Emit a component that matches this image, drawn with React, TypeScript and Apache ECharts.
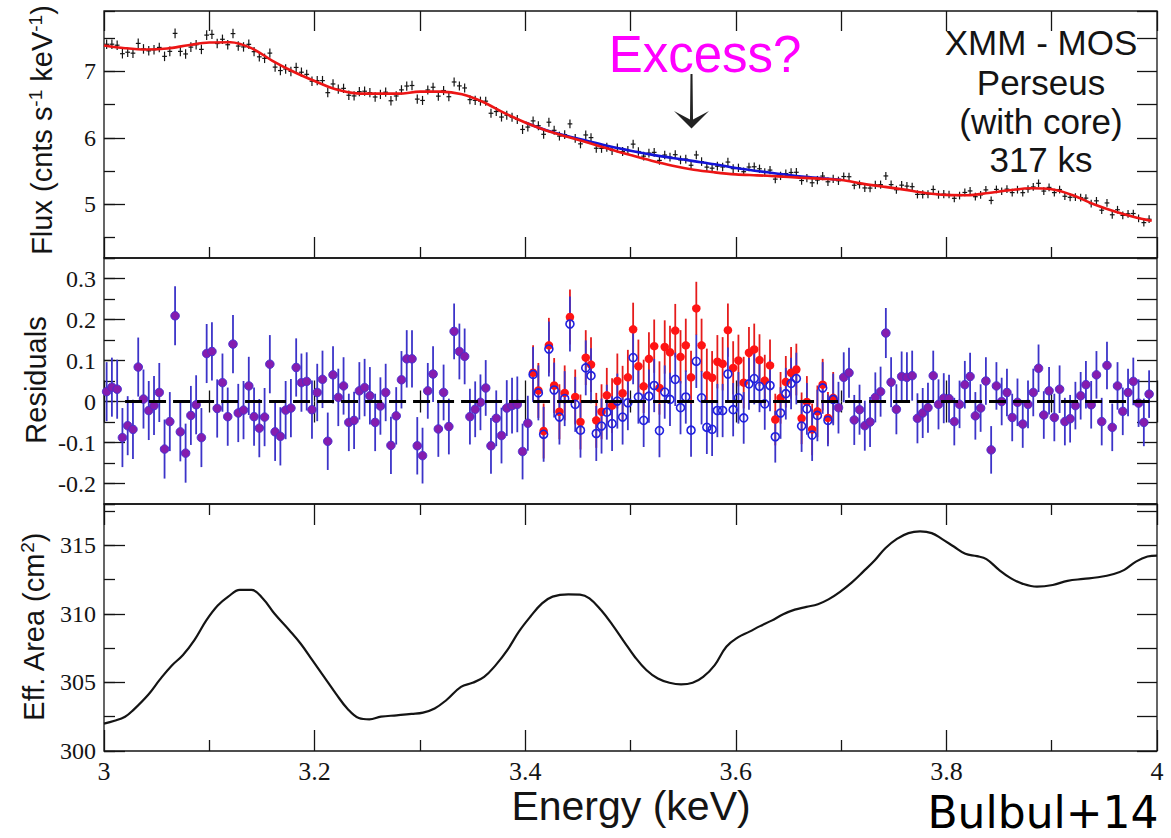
import { useEffect, useRef } from "react";
import * as echarts from "echarts";

// ---------------- data ----------------
// energy bins of the MOS spectrum (bin centres, keV)
const BIN_START = 3.0025;
const BIN_WIDTH = 0.005;

// residuals (data - model without the 3.55 keV line), one per bin
const residualNoLine = [
  0.024, 0.035, 0.030, -0.088, -0.059, -0.068, 0.084, 0.006, -0.022, -0.010,
  0.022, -0.116, -0.049, 0.209, -0.074, -0.126, -0.034, -0.008, -0.088, 0.117,
  0.122, -0.017, 0.046, -0.037, 0.140, -0.028, -0.021, 0.038, -0.037, -0.065,
  -0.038, 0.091, -0.074, -0.085, -0.021, -0.016, 0.083, 0.046, 0.049, -0.020,
  0.022, 0.054, -0.097, 0.065, 0.010, 0.038, -0.051, -0.046, 0.026, 0.034,
  0.014, -0.051, -0.011, 0.022, -0.107, -0.035, 0.053, 0.104, 0.104, -0.108,
  -0.132, 0.026, 0.067, -0.067, 0.022, -0.061, 0.171, 0.122, 0.110, -0.037,
  -0.019, -0.002, 0.033, -0.108, -0.041, -0.083, -0.016, -0.010, -0.007, -0.122,
  -0.053, 0.070, 0.027, -0.072, 0.137, 0.039, -0.025, 0.021, 0.206, 0.011,
  -0.050, 0.107, 0.090, -0.046, -0.025, 0.015, -0.010, 0.050, 0.020, 0.059,
  0.176, 0.086, 0.037, 0.104, 0.135, 0.033, 0.133, 0.120, 0.173, 0.109,
  0.137, 0.059, 0.227, 0.137, 0.064, 0.058, 0.097, 0.092, 0.174, 0.082,
  0.100, 0.046, 0.119, 0.127, 0.101, 0.051, 0.088, -0.044, 0.009, 0.048,
  0.070, 0.078, -0.041, -0.001, -0.068, -0.024, 0.041, -0.040, 0.009, -0.015,
  0.059, 0.070, -0.045, -0.020, -0.059, -0.050, 0.010, 0.024, 0.167, 0.047,
  -0.019, 0.061, 0.059, 0.063, -0.041, -0.028, -0.015, 0.063, -0.007, 0.008,
  0.007, -0.049, -0.007, 0.041, 0.061, -0.035, -0.016, 0.050, -0.118, 0.038,
  0.000, 0.022, -0.039, -0.002, -0.055, -0.007, 0.022, 0.081, -0.033, 0.026,
  -0.039, 0.030, -0.049, -0.042, -0.010, 0.014, 0.041, -0.008, 0.065, -0.049,
  0.088, -0.063, 0.038, -0.024, 0.022, 0.049, -0.004, -0.051, 0.018,
];

// residuals against the model that includes the line, for the bins where they differ
const EXCESS_FIRST_BIN = 81;
const residualWithLineExcess = [
  0.066, 0.021, -0.080, 0.128, 0.028, -0.038, 0.007, 0.189, -0.007, -0.070,
  0.082, 0.063, -0.078, -0.060, -0.026, -0.054, 0.001, -0.038, -0.003, 0.107,
  0.011, -0.046, 0.013, 0.039, -0.071, 0.023, 0.005, 0.054, -0.015, 0.011,
  -0.070, 0.098, 0.009, -0.063, -0.068, -0.022, -0.022, 0.067, -0.020, 0.009,
  -0.040, 0.043, 0.056, 0.037, -0.006, 0.039, -0.086, -0.028, 0.019, 0.044,
  0.056, -0.060, -0.018, -0.082, -0.034, 0.033, -0.046, 0.005,
];

// 1-sigma error half-width, per 0.1 keV slice (3.0-3.1, ..., 3.9-4.0)
const errorBySlice = [0.072, 0.071, 0.070, 0.068, 0.067, 0.065, 0.063, 0.061, 0.058, 0.058];

// measured flux (cnts s^-1 keV^-1), one per bin
const fluxData = [
  7.409, 7.41, 7.395, 7.267, 7.289, 7.275, 7.422, 7.339, 7.31, 7.326,
  7.361, 7.227, 7.302, 7.573, 7.302, 7.263, 7.366, 7.402, 7.332, 7.547,
  7.558, 7.42, 7.484, 7.402, 7.57, 7.382, 7.369, 7.408, 7.298, 7.22,
  7.197, 7.276, 7.065, 7.013, 7.036, 7.0, 7.06, 6.988, 6.956, 6.852,
  6.861, 6.862, 6.68, 6.811, 6.732, 6.745, 6.641, 6.631, 6.695, 6.702,
  6.681, 6.615, 6.654, 6.687, 6.558, 6.63, 6.722, 6.78, 6.788, 6.583,
  6.563, 6.721, 6.762, 6.628, 6.712, 6.619, 6.841, 6.782, 6.751, 6.575,
  6.564, 6.552, 6.552, 6.37, 6.396, 6.313, 6.341, 6.311, 6.277, 6.126,
  6.162, 6.255, 6.182, 6.053, 6.235, 6.113, 6.026, 6.048, 6.21, 5.992,
  5.909, 6.043, 6.003, 5.843, 5.841, 5.857, 5.809, 5.846, 5.794, 5.81,
  5.905, 5.794, 5.724, 5.77, 5.781, 5.66, 5.741, 5.709, 5.746, 5.667,
  5.68, 5.587, 5.742, 5.642, 5.559, 5.543, 5.573, 5.561, 5.635, 5.536,
  5.548, 5.49, 5.56, 5.564, 5.534, 5.48, 5.514, 5.378, 5.427, 5.461,
  5.478, 5.481, 5.357, 5.393, 5.323, 5.363, 5.424, 5.338, 5.382, 5.353,
  5.417, 5.414, 5.286, 5.297, 5.245, 5.243, 5.292, 5.295, 5.426, 5.295,
  5.218, 5.287, 5.273, 5.264, 5.148, 5.148, 5.151, 5.222, 5.144, 5.152,
  5.146, 5.089, 5.13, 5.177, 5.2, 5.113, 5.141, 5.216, 5.057, 5.223,
  5.195, 5.227, 5.175, 5.219, 5.174, 5.229, 5.26, 5.315, 5.198, 5.253,
  5.175, 5.221, 5.12, 5.104, 5.108, 5.098, 5.092, 5.009, 5.051, 4.91,
  5.019, 4.841, 4.917, 4.832, 4.856, 4.86, 4.787, 4.723, 4.774,
];

// best-fit model without the line (red)
const modelEnergy = [
  3.00, 3.02, 3.04, 3.06, 3.08, 3.10, 3.12, 3.14, 3.16, 3.18,
  3.20, 3.22, 3.24, 3.26, 3.28, 3.30, 3.32, 3.34, 3.36, 3.38,
  3.40, 3.42, 3.44, 3.46, 3.48, 3.50, 3.52, 3.54, 3.56, 3.58,
  3.60, 3.62, 3.64, 3.66, 3.68, 3.70, 3.72, 3.74, 3.76, 3.78,
  3.80, 3.82, 3.84, 3.86, 3.88, 3.90, 3.92, 3.94, 3.96, 3.98, 3.995,
];
const modelFlux = [
  7.39, 7.35, 7.33, 7.345, 7.395, 7.435, 7.44, 7.35, 7.16, 6.995,
  6.855, 6.73, 6.67, 6.665, 6.665, 6.695, 6.695, 6.655, 6.54, 6.375,
  6.23, 6.11, 6.015, 5.925, 5.83, 5.74, 5.655, 5.58, 5.52, 5.48,
  5.45, 5.435, 5.42, 5.40, 5.385, 5.365, 5.31, 5.265, 5.22, 5.17,
  5.14, 5.135, 5.17, 5.21, 5.24, 5.225, 5.135, 5.00, 4.89, 4.80, 4.75,
];

// model including the 3.55 keV line (blue)
const lineModelEnergy = [3.40, 3.42, 3.44, 3.46, 3.48, 3.50, 3.52, 3.54, 3.56, 3.58, 3.60, 3.62, 3.64, 3.66, 3.68, 3.70];
const lineModelFlux = [6.232, 6.115, 6.027, 5.95, 5.872, 5.806, 5.747, 5.696, 5.649, 5.602, 5.545, 5.501, 5.46, 5.42, 5.394, 5.368];

// effective area curve
const effEnergy = [
  3.000, 3.010, 3.020, 3.028, 3.042, 3.053, 3.064, 3.075, 3.086, 3.097,
  3.108, 3.118, 3.129, 3.140, 3.151, 3.162, 3.176, 3.187, 3.198, 3.209,
  3.220, 3.231, 3.242, 3.252, 3.263, 3.278, 3.292, 3.303, 3.314, 3.325,
  3.339, 3.350, 3.361, 3.372, 3.383, 3.394, 3.405, 3.416, 3.426, 3.441,
  3.452, 3.461, 3.472, 3.483, 3.494, 3.504, 3.515, 3.526, 3.537, 3.548,
  3.559, 3.569, 3.580, 3.591, 3.602, 3.613, 3.623, 3.634, 3.645, 3.656,
  3.667, 3.678, 3.688, 3.699, 3.710, 3.721, 3.732, 3.742, 3.753, 3.764,
  3.775, 3.786, 3.796, 3.807, 3.818, 3.829, 3.838, 3.850, 3.861, 3.872,
  3.886, 3.901, 3.915, 3.930, 3.944, 3.959, 3.969, 3.980, 3.991, 4.000,
];
const effArea = [
  302.0, 302.2, 302.5, 303.0, 304.1, 305.2, 306.2, 307.0, 308.1, 309.5,
  310.6, 311.25, 311.74, 311.74, 311.1, 310.0, 308.8, 307.8, 306.6, 305.4,
  304.2, 303.1, 302.4, 302.3, 302.5, 302.6, 302.7, 302.8, 303.1, 303.7,
  304.67, 304.97, 305.4, 306.26, 307.35, 308.7, 309.8, 310.76, 311.25, 311.42,
  311.4, 311.13, 310.27, 309.18, 307.96, 306.87, 305.9, 305.28, 304.97, 304.85,
  304.97, 305.4, 306.26, 307.6, 308.28, 308.7, 309.1, 309.5, 309.96, 310.3,
  310.5, 310.7, 311.05, 311.6, 312.27, 313.07, 313.9, 314.78, 315.46, 315.88,
  316.0, 315.88, 315.44, 314.9, 314.37, 314.2, 313.98, 313.2, 312.6, 312.2,
  311.98, 312.1, 312.4, 312.54, 312.66, 312.9, 313.2, 313.8, 314.17, 314.24,
];

// axis ranges
const X_RANGE = [3, 4];
const FLUX_RANGE = [4.19, 7.91];
const RESID_RANGE = [-0.25, 0.35];
const AREA_RANGE = [300, 318];
const ZERO_LINE_SPAN = [3.02, 3.993];

// ---------------- styling ----------------
const INK = "#141414";
const SERIF = "'Liberation Serif', 'Times New Roman', serif";
const SANS = "'Liberation Sans', Arial, Helvetica, sans-serif";
const tickLine = { color: INK, width: 1.3 };
const GRID_LEFT = 104;
const GRID_WIDTH = 1053;

function buildOption() {
  const energies = residualNoLine.map((_, i) => +(BIN_START + BIN_WIDTH * i).toFixed(4));
  const errOf = (e: number) => errorBySlice[Math.min(errorBySlice.length - 1, Math.floor((e - 3) * 10 + 1e-9))];
  const inExcess = (i: number) => i >= EXCESS_FIRST_BIN && i < EXCESS_FIRST_BIN + residualWithLineExcess.length;
  const residualWithLine = residualNoLine.map((v, i) => (inExcess(i) ? residualWithLineExcess[i - EXCESS_FIRST_BIN] : v));

  const gridBox = { left: GRID_LEFT, width: GRID_WIDTH, show: true, borderColor: INK, borderWidth: 1.3, backgroundColor: "transparent" };

  const xAxisPair = (gridIndex: number, topAllMinor: boolean, showLabels: boolean) => {
    const base = { type: "value", gridIndex, min: X_RANGE[0], max: X_RANGE[1], axisLine: { show: false }, splitLine: { show: false } };
    const majorMinor = {
      interval: 0.2,
      axisTick: { show: true, inside: true, length: 21, lineStyle: tickLine },
      minorTick: { show: true, splitNumber: 2, length: 11, lineStyle: tickLine },
    };
    const bottom = {
      ...base,
      ...majorMinor,
      position: "bottom",
      axisLabel: showLabels
        ? { show: true, margin: 9, fontFamily: SERIF, fontSize: 26, color: INK, lineHeight: 22 }
        : { show: false },
    };
    const top = topAllMinor
      ? { ...base, position: "top", interval: 0.1, axisTick: { show: true, inside: true, length: 20, lineStyle: tickLine }, axisLabel: { show: false } }
      : { ...base, ...majorMinor, position: "top", axisLabel: { show: false } };
    return [bottom, top];
  };

  const yAxisSet = (gridIndex: number, range: number[], major: number, minor: number, showMinLabel: boolean) => {
    const base = { type: "value", gridIndex, min: range[0], max: range[1], axisLine: { show: false }, splitLine: { show: false } };
    return [
      {
        ...base,
        position: "left",
        minInterval: major,
        maxInterval: major,
        axisTick: { show: true, inside: true, length: 21, lineStyle: tickLine },
        axisLabel: { show: true, showMinLabel, showMaxLabel: false, margin: 8, fontFamily: SERIF, fontSize: 24, color: INK },
      },
      {
        ...base,
        position: "left",
        minInterval: minor,
        maxInterval: minor,
        axisTick: { show: true, inside: true, length: 11, lineStyle: tickLine },
        axisLabel: { show: false },
      },
      {
        ...base,
        position: "right",
        minInterval: minor,
        maxInterval: minor,
        axisTick: { show: true, inside: true, length: 20, lineStyle: tickLine },
        axisLabel: { show: false },
      },
    ];
  };

  const errorBar = (color: string, width: number) => (params: any, api: any) => {
    const e = api.value(0);
    const v = api.value(1);
    const err = api.value(2);
    const a = api.coord([e, v + err]);
    const b = api.coord([e, v - err]);
    return { type: "line", shape: { x1: a[0], y1: a[1], x2: b[0], y2: b[1] }, style: { stroke: color, lineWidth: width } };
  };

  const fluxCross = (params: any, api: any) => {
    const e = api.value(0);
    const f = api.value(1);
    const err = api.value(2);
    const a = api.coord([e, f + err]);
    const b = api.coord([e, f - err]);
    const l = api.coord([e - BIN_WIDTH * 0.45, f]);
    const r = api.coord([e + BIN_WIDTH * 0.45, f]);
    return {
      type: "group",
      children: [
        { type: "line", shape: { x1: a[0], y1: a[1], x2: b[0], y2: b[1] }, style: { stroke: INK, lineWidth: 1.2 } },
        { type: "line", shape: { x1: l[0], y1: l[1], x2: r[0], y2: r[1] }, style: { stroke: INK, lineWidth: 1.2 } },
      ],
    };
  };

  const fluxPoints = fluxData.map((f, i) => [energies[i], f, errOf(energies[i])]);
  const redBars: number[][] = [];
  const blueBars: number[][] = [];
  const purplePts: number[][] = [];
  const redPts: number[][] = [];
  const bluePts: number[][] = [];
  residualNoLine.forEach((v, i) => {
    const e = energies[i];
    const err = errOf(e);
    blueBars.push([e, residualWithLine[i], err]);
    if (inExcess(i)) {
      redBars.push([e, v, err]);
      redPts.push([e, v]);
      bluePts.push([e, residualWithLine[i]]);
    } else {
      purplePts.push([e, v]);
    }
  });

  const zip = (xs: number[], ys: number[]) => xs.map((x, i) => [x, ys[i]]);

  const richTitle = {
    m: { fontSize: 29, fontFamily: SANS, fill: INK, lineHeight: 32, verticalAlign: "middle" },
    s: { fontSize: 19, fontFamily: SANS, fill: INK, lineHeight: 19, verticalAlign: "top" },
  };

  return {
    animation: false,
    backgroundColor: "#ffffff",
    grid: [
      { ...gridBox, top: 11, height: 247 },
      { ...gridBox, top: 258, height: 246 },
      { ...gridBox, top: 504, height: 247 },
    ],
    xAxis: [...xAxisPair(0, true, false), ...xAxisPair(1, false, false), ...xAxisPair(2, false, true)],
    yAxis: [
      ...yAxisSet(0, FLUX_RANGE, 1, 0.5, false),
      ...yAxisSet(1, RESID_RANGE, 0.1, 0.05, false),
      ...yAxisSet(2, AREA_RANGE, 5, 2.5, true),
    ],
    series: [
      {
        type: "custom",
        name: "MOS spectrum",
        xAxisIndex: 0,
        yAxisIndex: 0,
        renderItem: fluxCross,
        encode: { x: 0, y: 1 },
        data: fluxPoints,
      },
      {
        type: "line",
        name: "model + line",
        xAxisIndex: 0,
        yAxisIndex: 0,
        data: zip(lineModelEnergy, lineModelFlux),
        smooth: 0.35,
        symbol: "none",
        lineStyle: { color: "#1414d6", width: 2.6 },
      },
      {
        type: "line",
        name: "model",
        xAxisIndex: 0,
        yAxisIndex: 0,
        data: zip(modelEnergy, modelFlux),
        smooth: 0.35,
        symbol: "none",
        lineStyle: { color: "#ec1515", width: 2.6 },
      },
      {
        type: "custom",
        name: "error (no line)",
        xAxisIndex: 2,
        yAxisIndex: 3,
        renderItem: errorBar("#e51c1c", 1.8),
        encode: { x: 0, y: 1 },
        data: redBars,
      },
      {
        type: "custom",
        name: "error (with line)",
        xAxisIndex: 2,
        yAxisIndex: 3,
        renderItem: errorBar("#3c34c9", 1.8),
        encode: { x: 0, y: 1 },
        data: blueBars,
      },
      {
        type: "line",
        name: "zero",
        xAxisIndex: 2,
        yAxisIndex: 3,
        data: [[ZERO_LINE_SPAN[0], 0], [ZERO_LINE_SPAN[1], 0]],
        symbol: "none",
        lineStyle: { color: "#000000", width: 3.2, type: [17, 7] },
      },
      {
        type: "scatter",
        name: "residuals",
        xAxisIndex: 2,
        yAxisIndex: 3,
        data: purplePts,
        symbol: "circle",
        symbolSize: 8.5,
        itemStyle: { color: "#851cae", borderColor: "#4a2ed0", borderWidth: 1, opacity: 1 },
      },
      {
        type: "scatter",
        name: "residuals (no line)",
        xAxisIndex: 2,
        yAxisIndex: 3,
        data: redPts,
        symbol: "circle",
        symbolSize: 8.5,
        itemStyle: { color: "#ff1414", opacity: 1 },
      },
      {
        type: "scatter",
        name: "residuals (with line)",
        xAxisIndex: 2,
        yAxisIndex: 3,
        data: bluePts,
        symbol: "circle",
        symbolSize: 8,
        itemStyle: { color: "rgba(255,255,255,0)", borderColor: "#2020e0", borderWidth: 1.6, opacity: 1 },
      },
      {
        type: "line",
        name: "effective area",
        xAxisIndex: 4,
        yAxisIndex: 6,
        data: zip(effEnergy, effArea),
        smooth: 0.4,
        symbol: "none",
        lineStyle: { color: INK, width: 2.2 },
      },
    ],
    graphic: [
      {
        type: "text",
        x: 42,
        y: 130,
        rotation: Math.PI / 2,
        style: {
          text: "{m|Flux (cnts s}{s|-1}{m| keV}{s|-1}{m|)}",
          align: "center",
          verticalAlign: "middle",
          rich: richTitle,
        },
      },
      {
        type: "text",
        x: 36,
        y: 380,
        rotation: Math.PI / 2,
        style: { text: "Residuals", font: `29px ${SANS}`, fill: INK, align: "center", verticalAlign: "middle", lineHeight: 32 },
      },
      {
        type: "text",
        x: 34,
        y: 627,
        rotation: Math.PI / 2,
        style: {
          text: "{m|Eff. Area (cm}{s|2}{m|)}",
          align: "center",
          verticalAlign: "middle",
          rich: richTitle,
        },
      },
      {
        type: "text",
        x: 631,
        y: 806,
        style: { text: "Energy (keV)", font: `41px ${SANS}`, fill: INK, align: "center", verticalAlign: "middle", lineHeight: 34 },
      },
      {
        type: "text",
        x: 1043,
        y: 812,
        style: { text: "Bulbul+14", font: `44px 'DejaVu Sans', ${SANS}`, fill: "#000000", align: "center", verticalAlign: "middle", lineHeight: 36 },
      },
      {
        type: "text",
        x: 705,
        y: 54,
        style: { text: "Excess?", font: `51px ${SANS}`, fill: "#ff00ff", align: "center", verticalAlign: "middle" },
      },
      {
        type: "polygon",
        shape: {
          points: [
            [691.5, 128.5],
            [674, 111],
            [690, 119.5],
            [690.5, 74],
            [692.5, 74],
            [693, 119.5],
            [709, 111],
          ],
        },
        style: { fill: "#222222" },
      },
      { type: "text", x: 1041, y: 42, style: { text: "XMM - MOS", font: `35px ${SANS}`, fill: INK, align: "center", verticalAlign: "middle" } },
      { type: "text", x: 1041, y: 82, style: { text: "Perseus", font: `35px ${SANS}`, fill: INK, align: "center", verticalAlign: "middle" } },
      { type: "text", x: 1041, y: 121, style: { text: "(with core)", font: `35px ${SANS}`, fill: INK, align: "center", verticalAlign: "middle" } },
      { type: "text", x: 1041, y: 159.5, style: { text: "317 ks", font: `35px ${SANS}`, fill: INK, align: "center", verticalAlign: "middle" } },
    ],
  };
}

export default function App() {
  const ref = useRef<HTMLDivElement>(null);
  useEffect(() => {
    if (!ref.current) return;
    const chart = echarts.init(ref.current, undefined, { renderer: "svg" });
    chart.setOption(buildOption() as any);
    return () => chart.dispose();
  }, []);
  return (
    <div
      ref={ref}
      style={{ position: "fixed", left: 0, top: 0, width: 1171, height: 838, background: "#ffffff" }}
    />
  );
}
